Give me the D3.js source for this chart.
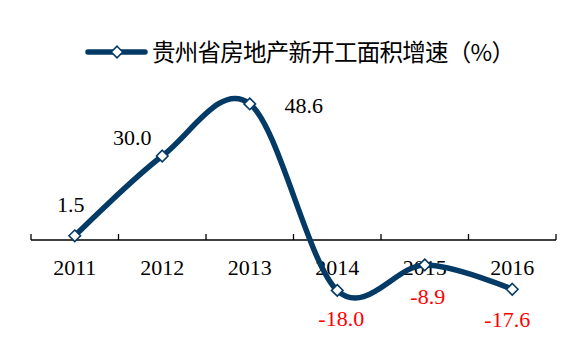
<!DOCTYPE html>
<html>
<head>
<meta charset="utf-8">
<script src="https://cdn.jsdelivr.net/npm/d3@7"></script>
<style>
  body { margin: 0; background: #fff; }
  svg { display: block; }
</style>
</head>
<body>
<div id="chart-area"></div>
<script>
// data
const years = ["2011", "2012", "2013", "2014", "2015", "2016"];
const growth = [1.5, 30.0, 48.6, -18.0, -8.9, -17.6];
const seriesName = "贵州省房地产新开工面积增速（%）";

// label nudges relative to each marker (layout only)
const labelOffsets = [[-4, -24], [-30, -11], [54, 9], [4, 36], [3, 39], [-5, 38]];

const width = 578, height = 351;
const lineColor = "#033a66";

const svg = d3.select("#chart-area")
    .append("svg")
    .attr("width", width)
    .attr("height", height);

const xScale = d3.scaleBand()
    .domain(years)
    .range([31, 556]);

const yScale = d3.scaleLinear()
    .domain([-20, 50])
    .range([296, 100]);

const y0 = yScale(0);

// category axis
const xAxis = d3.axisBottom(xScale)
    .tickSizeInner(0)
    .tickSizeOuter(0)
    .tickPadding(19);

const axisG = svg.append("g")
    .attr("transform", `translate(0, ${y0})`)
    .call(xAxis);

axisG.select(".domain").remove();
axisG.selectAll("text")
    .attr("fill", "#000")
    .style("font-family", "'Liberation Serif', 'Times New Roman', serif")
    .style("font-size", "22px");

svg.append("line")
    .attr("x1", xScale.range()[0])
    .attr("x2", xScale.range()[1])
    .attr("y1", y0)
    .attr("y2", y0)
    .attr("stroke", "#000")
    .attr("stroke-width", 1.3);

const edges = years.map(d => xScale(d)).concat([xScale.range()[1]]);
svg.selectAll(".tick-mark")
    .data(edges)
    .enter()
    .append("line")
    .attr("class", "tick-mark")
    .attr("x1", d => d)
    .attr("x2", d => d)
    .attr("y1", y0)
    .attr("y2", y0 - 6)
    .attr("stroke", "#000")
    .attr("stroke-width", 1.3);

// smoothed line
const points = years.map((d, i) => ({year: d, value: growth[i]}));
const cx = d => xScale(d.year) + xScale.bandwidth() / 2;

const line = d3.line()
    .x(cx)
    .y(d => yScale(d.value))
    .curve(d3.curveCardinal.tension(0));

svg.append("path")
    .datum(points)
    .attr("d", line)
    .attr("fill", "none")
    .attr("stroke", lineColor)
    .attr("stroke-width", 5.5)
    .attr("stroke-linecap", "round")
    .attr("stroke-linejoin", "round");

const diamond = d3.symbol().type(d3.symbolDiamond2).size(85);

svg.selectAll(".marker")
    .data(points)
    .enter()
    .append("path")
    .attr("class", "marker")
    .attr("d", diamond)
    .attr("transform", d => `translate(${cx(d)}, ${yScale(d.value)})`)
    .attr("fill", "#fff")
    .attr("stroke", lineColor)
    .attr("stroke-width", 1.6);

// value labels
svg.selectAll(".value-label")
    .data(points)
    .enter()
    .append("text")
    .attr("class", "value-label")
    .attr("x", (d, i) => cx(d) + labelOffsets[i][0])
    .attr("y", (d, i) => yScale(d.value) + labelOffsets[i][1])
    .attr("text-anchor", "middle")
    .attr("fill", d => d.value < 0 ? "#ff0000" : "#000")
    .style("font-family", "'Liberation Serif', 'Times New Roman', serif")
    .style("font-size", "22px")
    .text(d => d.value.toFixed(1));

// legend
const legend = svg.append("g")
    .attr("transform", "translate(88, 52)");

legend.append("line")
    .attr("x1", 0)
    .attr("x2", 57)
    .attr("stroke", lineColor)
    .attr("stroke-width", 5.5)
    .attr("stroke-linecap", "round");

legend.append("path")
    .attr("d", diamond)
    .attr("transform", "translate(29, 0)")
    .attr("fill", "#fff")
    .attr("stroke", lineColor)
    .attr("stroke-width", 1.6);

legend.append("text")
    .attr("x", 64)
    .attr("y", 9)
    .attr("fill", "#000")
    .attr("textLength", 363)
    .attr("lengthAdjust", "spacing")
    .style("font-family", "'Noto Sans CJK SC', sans-serif")
    .style("font-size", "23.5px")
    .text(seriesName);
</script>
</body>
</html>
